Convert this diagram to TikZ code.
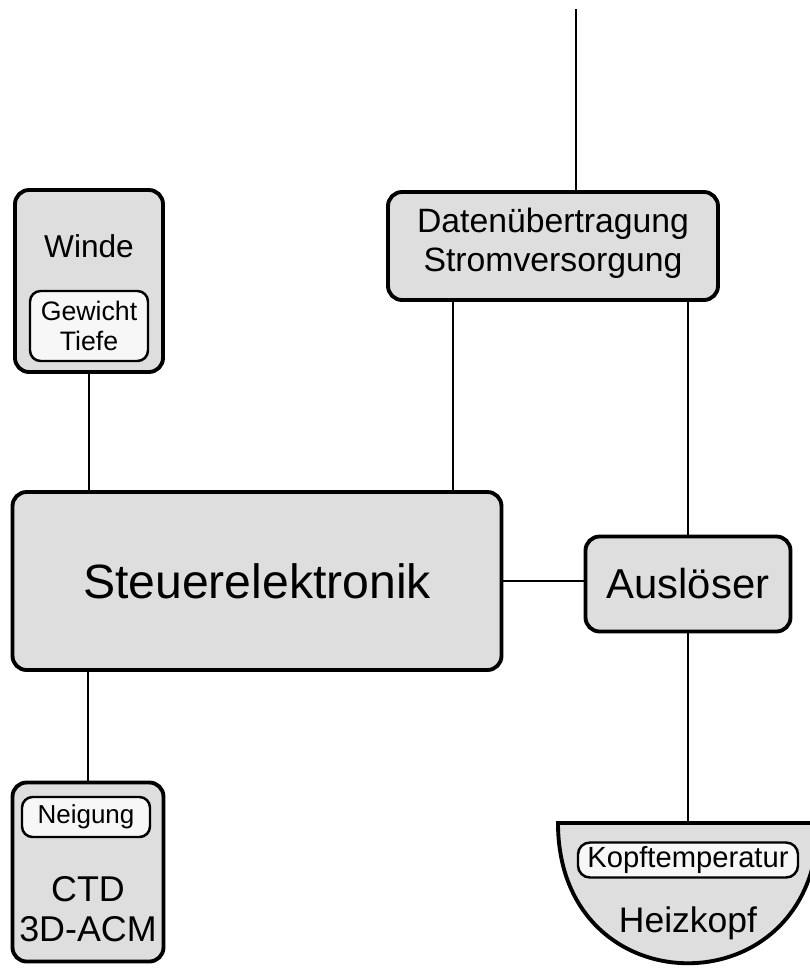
\documentclass[tikz,border=0pt]{standalone}
\usepackage{fontspec}
\setmainfont{Liberation Sans}
\usetikzlibrary{positioning}

\begin{document}
\begin{tikzpicture}[
    x=0.1mm, y=-0.1mm,
    base/.style={draw, line width=1.1pt, rounded corners=4pt, fill=black!13, inner sep=0pt},
    tag/.style={draw, line width=0.7pt, rounded corners=3pt, fill=black!3, inner sep=0pt, align=center},
    txt/.style={inner sep=0pt, align=center},
    wire/.style={line width=0.6pt}
]
    \useasboundingbox (0,0) rectangle (810,971);

    % Kästen
    \node [base, minimum width=14.8mm, minimum height=18.2mm] (winde) at (89,281) {};
    \node [txt, font=\fontsize{9}{10.5}\selectfont] (windeTxt) at (89,246) {Winde};
    \node [tag, minimum width=11.8mm, minimum height=7mm, font=\fontsize{7.6}{8.5}\selectfont] (gewicht) at (89,326) {Gewicht\\Tiefe};

    \node [base, minimum width=33mm, minimum height=10.8mm] (daten) at (553,246) {};
    \node [txt, font=\fontsize{9.6}{11.1}\selectfont] (datenTxt) at (553,243) {Datenübertragung\\Stromversorgung};

    \node [base, minimum width=48.9mm, minimum height=17.8mm, font=\fontsize{13.7}{16}\selectfont] (steuer) at (257,581) {Steuerelektronik};

    \node [base, minimum width=20.5mm, minimum height=9.5mm, font=\fontsize{11.9}{14}\selectfont] (ausl) at (688,584) {Auslöser};

    \node [base, minimum width=15.1mm, minimum height=17.9mm] (ctd) at (88,872) {};
    \node [tag, minimum width=12.8mm, minimum height=4mm, font=\fontsize{7.4}{8.5}\selectfont] (neigung) at (86,817) {Neigung};
    \node [txt, font=\fontsize{10.2}{11.4}\selectfont] (ctdTxt) at (88,909) {CTD\\3D-ACM};

    % Heizkopf
    \coordinate (heiz) at (688,823);
    \draw [line width=1.1pt, fill=black!13] (558,823) -- (818,823)
        .. controls (818,1010) and (558,1010) .. cycle;
    \node [tag, rounded corners=3.4pt, minimum width=22mm, minimum height=3.5mm, font=\fontsize{8.3}{9.5}\selectfont] (kopf) at (688,860) {Kopftemperatur};
    \node [txt, font=\fontsize{10.1}{12}\selectfont] (heizTxt) at (688,923) {Heizkopf};

    % Leitungen
    \coordinate (kabel) at (576,9);
    \draw [wire] (kabel) -- (kabel |- daten.north);
    \draw [wire] (winde.south) -- (winde.south |- steuer.north);
    \draw [wire] ([xshift=6.7mm]daten.south west) -- ([xshift=6.7mm]daten.south west |- steuer.north);
    \draw [wire] (ausl.north) -- (ausl.north |- daten.south);
    \draw [wire] (steuer.east) -- (steuer.east -| ausl.west);
    \draw [wire] (ausl.south) -- (heiz);
    \draw [wire] (steuer.south -| ctd.north) -- (ctd.north);

\end{tikzpicture}
\end{document}
